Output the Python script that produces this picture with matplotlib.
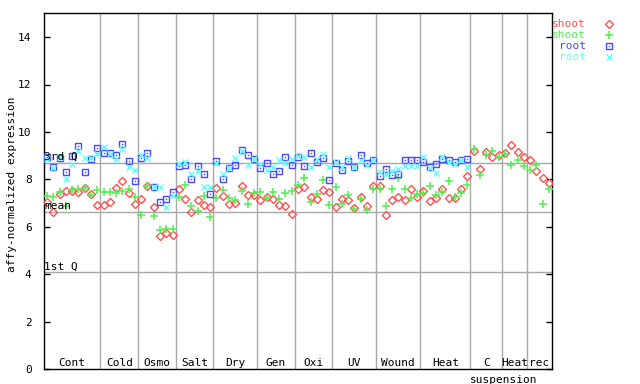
import matplotlib
matplotlib.use("Agg")
import matplotlib.pyplot as plt
from matplotlib.lines import Line2D
from matplotlib import transforms
import numpy as np

# ---- data ----
group_labels = ["Cont", "Cold", "Osmo", "Salt", "Dry", "Gen", "Oxi", "UV",
                "Wound", "Heat", "C", "Heat", "rec"]
group_sizes = [9, 6, 6, 6, 7, 6, 6, 7, 7, 8, 5, 4, 4]
sub_label = "suspension"

shoot_red = [7.07, 6.62, 7.40, 7.50, 7.53, 7.46, 7.63, 7.40, 6.92,
             6.92, 7.04, 7.65, 7.94, 7.42, 6.96,
             7.17, 7.71, 6.84, 5.60, 5.74, 5.65,
             7.59, 7.18, 6.62, 7.12, 6.91, 6.84,
             7.64, 7.32, 6.95, 7.02, 7.73, 7.33, 7.33,
             7.12, 7.28, 7.17, 6.91, 6.87, 6.53,
             7.58, 7.70, 7.28, 7.19, 7.54, 7.45,
             6.83, 7.16, 7.12, 6.79, 7.24, 6.88, 7.72,
             7.72, 6.49, 7.12, 7.28, 7.12, 7.58, 7.28,
             7.50, 7.08, 7.20, 7.60, 7.20, 7.20, 7.60, 8.13,
             9.20, 8.45, 9.15, 8.93, 9.05,
             9.12, 9.45, 9.15, 8.95,
             8.80, 8.34, 8.05, 7.84]

shoot_green = [7.30, 7.26, 7.46, 6.88, 7.55, 7.59, 7.62, 7.33, 7.54,
               7.46, 7.46, 7.42, 7.53, 7.60, 7.26,
               6.50, 7.74, 6.46, 5.87, 5.90, 5.91,
               7.27, 7.77, 6.90, 6.65, 7.30, 6.42,
               7.21, 7.54, 7.21, 7.14, 7.52, 6.95, 7.43,
               7.48, 7.22, 7.47, 7.17, 7.42, 7.50,
               7.76, 8.08, 7.03, 7.37, 7.96, 6.91,
               7.67, 6.95, 7.33, 6.74, 7.16, 6.70, 7.58,
               7.58, 6.87, 7.58, 8.05, 7.58, 7.20, 7.37,
               7.42, 7.71, 7.36, 7.46, 7.92, 7.26, 7.42, 7.75,
               9.27, 8.17, 9.02, 9.20, 8.93,
               9.08, 8.62, 8.81, 8.55,
               8.40, 8.60, 6.98, 7.58]

root_blue = [8.93, 8.51, 8.90, 8.30, 8.97, 9.42, 8.30, 8.85, 9.31,
             9.10, 9.10, 9.03, 9.48, 8.78, 7.93,
             8.89, 9.10, 7.68, 7.04, 7.18, 7.46,
             8.57, 8.61, 8.02, 8.55, 8.22, 7.37,
             8.78, 8.02, 8.50, 8.59, 9.22, 9.02, 8.85,
             8.47, 8.68, 8.22, 8.35, 8.93, 8.60,
             8.95, 8.56, 9.10, 8.72, 8.92, 7.97,
             8.71, 8.38, 8.77, 8.51, 9.02, 8.68, 8.80,
             8.14, 8.43, 8.18, 8.22, 8.81, 8.81, 8.81,
             8.72, 8.54, 8.64, 8.85, 8.81, 8.72, 8.81, 8.85]

root_cyan = [8.85, 8.47, 8.93, 8.02, 8.66, 9.20, 8.89, 8.89, 9.06,
             9.35, 9.06, 8.85, 9.28, 8.53, 8.40,
             9.03, 8.89, 7.68, 7.70, 6.84, 7.31,
             8.66, 8.75, 8.25, 8.35, 7.70, 7.67,
             8.70, 8.25, 8.48, 8.89, 9.20, 8.59, 8.85,
             8.63, 8.40, 8.51, 8.81, 8.68, 8.85,
             9.00, 8.93, 8.51, 8.86, 9.08, 8.51,
             8.72, 8.51, 8.90, 8.52, 8.82, 8.60, 8.80,
             8.30, 8.24, 8.34, 8.42, 8.55, 8.55, 8.55,
             8.93, 8.47, 8.26, 8.93, 8.75, 8.64, 8.81, 8.51]

stat_values = [8.71, 6.63, 4.09]
stat_labels = ["3rd Q", "mean", "1st Q"]

series_names = ["shoot", "shoot", "root", "root"]
RED, GREEN, BLUE, CYAN = "#ff5050", "#50f050", "#4848ff", "#60ffff"
GRID = "#a8a8a8"

mono = "DejaVu Sans Mono"
plt.rcParams["font.family"] = mono
FS = 8

fig = plt.figure(figsize=(6.4, 3.84), dpi=100)
L, R, B, T = 44, 552, 369.3, 13.3
ax = fig.add_axes([L / 640, 1 - B / 384, (R - L) / 640, (B - T) / 384])
n = len(shoot_red)
ax.set_xlim(-0.5, n - 0.5)
ax.set_ylim(0, 15)

# group dividers
bounds = np.cumsum(group_sizes)
for b in bounds[:-1]:
    ax.axvline(b - 0.5, color=GRID, lw=1, zorder=1)
# stat lines
for v, lab in zip(stat_values, stat_labels):
    ax.axhline(v, color=GRID, lw=1, zorder=1)
    ax.text(-0.45, v + 0.02, lab, ha="left", va="bottom", fontsize=FS,
            color="black", zorder=5)

# group labels
starts = np.concatenate([[0], bounds[:-1]])
for s, sz, lab in zip(starts, group_sizes, group_labels):
    ax.text(s + (sz - 1) / 2, 0.27, lab, ha="center", va="center", fontsize=FS)
trans = transforms.blended_transform_factory(ax.transData, ax.transAxes)
c_idx = group_labels.index("C")
ax.text(starts[c_idx] + group_sizes[c_idx] - 0.2, -0.03, sub_label,
        ha="center", va="center", fontsize=FS, transform=trans, clip_on=False)

x_s = np.arange(n)
x_r = np.arange(len(root_blue))
ax.plot(x_s, shoot_red, ls="none", marker="D", ms=4, mfc="none", mec=RED,
        mew=1, zorder=3)
ax.plot(x_s, shoot_green, ls="none", marker="+", ms=6, mec=GREEN, mew=1.1,
        zorder=3)
ax.plot(x_r, root_blue, ls="none", marker="s", ms=4.5, mfc="none", mec=BLUE,
        mew=1, zorder=3)
ax.plot(x_r, root_blue, ls="none", marker="s", ms=1, mfc=BLUE, mec=BLUE,
        mew=0, zorder=3)
ax.plot(x_r, root_cyan, ls="none", marker="x", ms=4.5, mec=CYAN, mew=1,
        zorder=3)

ax.set_yticks(range(0, 15, 2))
ax.set_xticks([])
ax.tick_params(axis="y", direction="in", length=4, width=1, left=True,
               right=True, labelsize=FS, pad=9, colors="black")
for sp in ax.spines.values():
    sp.set_color("black")
    sp.set_linewidth(1)

fig.text(12 / 640, 1 - 184 / 384, "affy-normalized expression", rotation=90,
         ha="center", va="center", fontsize=FS)

# legend (outside right)
leg_colors = [RED, GREEN, BLUE, CYAN]
leg_markers = [dict(marker="D", ms=4, mfc="none", mec=RED, mew=1),
               dict(marker="+", ms=6, mec=GREEN, mew=1.1),
               dict(marker="s", ms=4.5, mfc="none", mec=BLUE, mew=1),
               dict(marker="x", ms=4.5, mec=CYAN, mew=1)]
leg_y = [24, 35, 46, 57]
for name, col, mk, yy in zip(series_names, leg_colors, leg_markers, leg_y):
    fy = 1 - yy / 384
    fig.text(586 / 640, fy, name, ha="right", va="center", fontsize=FS,
             color=col)
    fig.add_artist(Line2D([609 / 640], [fy], transform=fig.transFigure,
                          ls="none", **mk))
fig.add_artist(Line2D([609 / 640], [1 - leg_y[2] / 384],
                      transform=fig.transFigure, ls="none", marker="s",
                      ms=1, mfc=BLUE, mec=BLUE, mew=0))

fig.savefig("out.png", dpi=100)
